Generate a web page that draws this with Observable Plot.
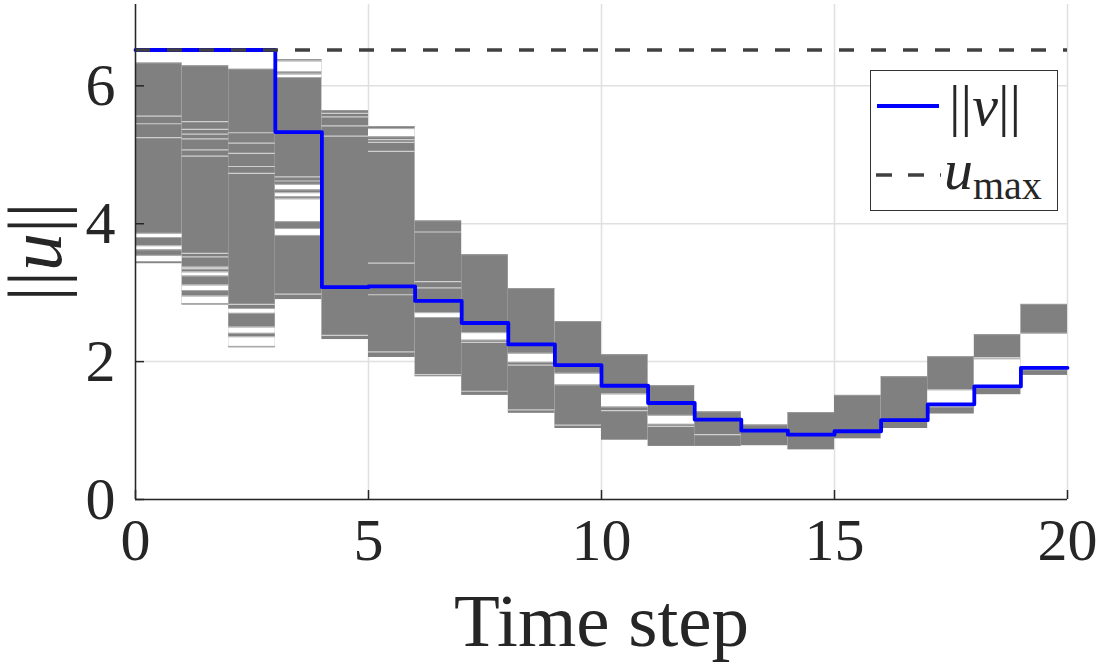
<!DOCTYPE html>
<html><head><meta charset="utf-8">
<script src="https://cdn.jsdelivr.net/npm/d3@7"></script>
<script src="https://cdn.jsdelivr.net/npm/@observablehq/plot@0.6"></script>
<style>
body{margin:0;background:#fff;}
#wrap{position:relative;width:1099px;height:668px;}
#legend{position:absolute;left:870px;top:70px;width:186px;height:139px;border:1.5px solid #333;background:#fff;font-family:"Liberation Serif","DejaVu Serif","Times New Roman",serif;color:#262626;}
#legend .t{position:absolute;white-space:nowrap;line-height:1;}
</style></head><body><div id="wrap"></div>
<script>
// time steps and gray band envelope of sampled ||u|| trajectories
const steps  = [0,1,2,3,4,5,6,7,8,9,10,11,12,13,14,15,16,17,18,19];
const bandLo = [3.42,2.82,2.20,2.90,2.32,2.06,1.78,1.51,1.25,1.03,0.86,0.77,0.77,0.78,0.72,0.88,1.03,1.24,1.52,1.80];
const bandHi = [6.33,6.29,6.24,6.38,5.64,5.41,4.04,3.55,3.06,2.58,2.10,1.65,1.27,1.08,1.26,1.51,1.78,2.07,2.39,2.83];
// sparse (white) intervals inside the bands
const gapStep = [0,0,0, 1,1,1,1, 2,2,2, 3,3,3,3,3,3, 5, 6, 7, 8, 9, 10, 11, 17, 18, 19];
const gapLo   = [3.80,3.62,3.45, 3.34,3.24,3.03,2.84, 2.70,2.41,2.22, 6.20,6.12,4.49,4.39,4.03,3.83, 5.26, 2.64, 2.31, 1.99, 1.66, 1.34, 1.09, 1.34, 1.61, 1.88];
const gapHi   = [3.86,3.68,3.54, 3.37,3.30,3.11,2.95, 2.77,2.50,2.36, 6.36,6.17,4.57,4.45,4.36,3.93, 5.38, 2.71, 2.42, 2.12, 1.83, 1.53, 1.22, 1.59, 2.04, 2.41];
// individual light trajectory lines
const lineStep = [0,0,0, 1,1,1,1,1,1,1,1, 2,2,2,2,2,2, 3,3,3, 4,4,4,4,4, 5,5,5,5,5,5, 6,6,6,6, 7,7, 8,8, 9, 10, 11, 12, 18];
const lineVal  = [5.56,5.45,5.25, 5.48,5.37,5.30,5.23,5.07,4.98,3.57,3.52, 5.32,5.17,5.02,4.83,4.73,2.83, 4.68,4.62,2.98, 5.60,5.55,5.42,5.27,2.38, 5.22,5.18,5.05,3.43,2.97,2.14, 3.88,3.16,3.07,1.81, 2.28,1.57, 1.95,1.30, 1.08, 1.29, 1.06, 0.94, 2.06];
// nominal ||v|| (stairs, last value repeated to close at t = 20)
const vTime = [0,1,2,3,4,5,6,7,8,9,10,11,12,13,14,15,16,17,18,19,20];
const vNorm = [6.52,6.52,6.52,5.33,3.08,3.09,2.88,2.56,2.25,1.95,1.65,1.40,1.16,1.00,0.94,0.99,1.15,1.38,1.64,1.91,1.91];
const uMax = 6.52;
const xTicks = [0,5,10,15,20];
const yTicks = [0,2,4,6];

const bands = steps.map((s,i)=>({step:s, lo:bandLo[i], hi:bandHi[i]}));
const gaps = gapStep.map((s,i)=>({step:s, lo:gapLo[i], hi:gapHi[i]}));
const gapEdges = gaps.flatMap(g=>[{step:g.step,v:g.lo},{step:g.step,v:g.hi}]);
const lines = lineStep.map((s,i)=>({step:s, v:lineVal[i]}));
const vSeries = vTime.map((t,i)=>({t, v:vNorm[i]}));

const W=1099,H=668,mL=135,mR=32,mT=4,mB=169;
const plotW=W-mL-mR, plotH=H-mT-mB;
const ink="#262626";
const FF = "'Liberation Serif', 'DejaVu Serif', 'Times New Roman', serif";
const chart = Plot.plot({
  width:W,height:H,marginLeft:mL,marginRight:mR,marginTop:mT,marginBottom:mB,
  x:{domain:[0,20]}, y:{domain:[0,7.18]},
  style:{background:"white", color:ink},
  marks:[
    Plot.gridX(xTicks,{stroke:"#e0e0e0",strokeOpacity:1,strokeWidth:1.5}),
    Plot.gridY(yTicks,{stroke:"#e0e0e0",strokeOpacity:1,strokeWidth:1.5}),
    Plot.rect(bands,{x1:"step",x2:d=>d.step+1,y1:"lo",y2:"hi",fill:"#808080"}),
    Plot.ruleY(bands,{y:"hi",x1:"step",x2:d=>d.step+1,stroke:"#9a9a9a",strokeWidth:1}),
    Plot.rect(gaps,{x1:"step",x2:d=>d.step+1,y1:"lo",y2:"hi",fill:"white"}),
    Plot.ruleY(gapEdges,{y:"v",x1:"step",x2:d=>d.step+1,stroke:"#ababab",strokeWidth:1}),
    Plot.ruleY(lines,{y:"v",x1:"step",x2:d=>d.step+1,stroke:"#cfcfcf",strokeWidth:1.2}),
    Plot.line(vSeries,{x:"t",y:"v",curve:"step-after",stroke:"#0000ff",strokeWidth:3.8}),
    Plot.ruleY([uMax],{stroke:"#404040",strokeWidth:3.5,strokeDasharray:"15,17"}),
    Plot.ruleX([0],{stroke:ink,strokeWidth:1.5}),
    Plot.ruleY([0],{stroke:ink,strokeWidth:1.5}),
    Plot.ruleX(xTicks,{stroke:ink,strokeWidth:1.5,insetTop:plotH-9}),
    Plot.ruleY(yTicks,{stroke:ink,strokeWidth:1.5,insetRight:plotW-9}),
    Plot.axisX(xTicks,{tickSize:0,tickPadding:18,fontSize:60,fontFamily:FF,label:null,fill:ink,tickFormat:d=>String(d)}),
    Plot.axisY(yTicks,{tickSize:0,tickPadding:20,fontSize:60,fontFamily:FF,label:null,fill:ink,tickFormat:d=>String(d)}),
    Plot.text(["Time step"],{frameAnchor:"bottom",dy:146,fontSize:75,fontFamily:FF,fill:ink}),
    Plot.text(["||u||"],{frameAnchor:"left",textAnchor:"middle",dx:-99,rotate:-90,fontSize:76,fontFamily:FF,fill:ink})
  ]
});
d3.select(chart).selectAll("text").each(function(){
  if (this.textContent === "||u||") {
    this.innerHTML = '||<tspan font-style="italic">u</tspan>||';
  }
});
const wrap = document.getElementById("wrap");
wrap.appendChild(chart);
const lg = document.createElement("div");
lg.id="legend";
lg.innerHTML = `
<svg width="186" height="139" style="position:absolute;left:0;top:0">
  <line x1="6" x2="68" y1="35" y2="35" stroke="#0000ff" stroke-width="3.8"/>
  <line x1="5" x2="70" y1="104" y2="104" stroke="#404040" stroke-width="3.5" stroke-dasharray="16,16"/>
</svg>
<div class="t" style="left:78px;top:6px;font-size:58px">||<i>v</i>||</div>
<div class="t" style="left:73px;top:70px;font-size:58px"><i>u</i><span style="font-size:40px;position:relative;top:10px">max</span></div>`;
wrap.appendChild(lg);
</script></body></html>
